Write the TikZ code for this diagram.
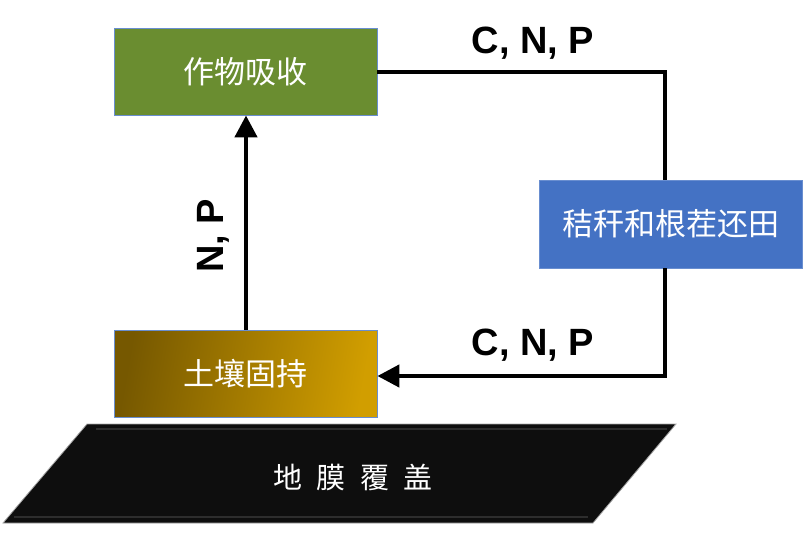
\documentclass[tikz,border=0pt]{standalone}
\usepackage{fontspec}
\setmainfont{Liberation Sans}
\newfontfamily\cjk{Noto Sans CJK SC}
\usetikzlibrary{arrows.meta}
\definecolor{cropgreen}{HTML}{6A8D30}
\definecolor{strawblue}{HTML}{4472C4}
\definecolor{soildark}{HTML}{765800}
\definecolor{soillight}{HTML}{D19E00}
\definecolor{filmblack}{HTML}{0E0E0E}
\tikzset{
  box/.style={draw=strawblue!80!white, line width=0.8pt, text=white, font=\cjk\fontsize{31}{34}\selectfont, inner sep=0pt},
  flow/.style={line width=4.5pt, line cap=butt},
  flowarrow/.style={flow, -{Triangle[length=22pt,width=22pt]}},
  elem/.style={font=\bfseries\fontsize{38}{40}\selectfont, text=black}
}
\begin{document}
\begin{tikzpicture}[x=1pt,y=-1pt]
\useasboundingbox (0,0) rectangle (809,552);
% boxes
\node[box, fill=cropgreen, minimum width=263pt, minimum height=87pt] (crop) at (245.5,71.5) {作物吸收};
\node[box, minimum width=263pt, minimum height=87pt, left color=soildark, right color=soillight, shading angle=80] (soil) at (245.5,373.5) {土壤固持};
\node[box, fill=strawblue, minimum width=263pt, minimum height=88pt] (straw) at (670.5,224) {秸秆和根茬还田};
% film parallelogram
\path[fill=filmblack, draw=gray!70, line width=0.8pt] (87,424) coordinate (f1) -- (676,424) coordinate (f2) -- (593,523) coordinate (f3) -- (3,523) coordinate (f4) -- cycle;
\draw[gray!35!black, line width=1.5pt] (96,429) -- (667,429);
\draw[gray!35!black, line width=1.5pt] (14,517) -- (588,517);
\node[text=white, font=\cjk\fontsize{29}{32}\selectfont] (film) at (353,477) {地\hspace{0.5em}膜\hspace{0.5em}覆\hspace{0.5em}盖};
% connectors
\coordinate (tr) at (665,72);
\coordinate (br) at (665,376);
\draw[flow] (crop.east |- tr) -- (tr) -- (straw.north -| tr);
\draw[flowarrow] (straw.south -| br) -- (br) -- (soil.east |- br);
\draw[flowarrow] (soil.north -| 246,0) -- (crop.south -| 246,0);
% labels
\node[elem] (lab1) at (533,43) {C, N, P};
\node[elem] (lab2) at (533,345) {C, N, P};
\node[elem, rotate=90] (lab3) at (213,236) {N, P};
\end{tikzpicture}
\end{document}
